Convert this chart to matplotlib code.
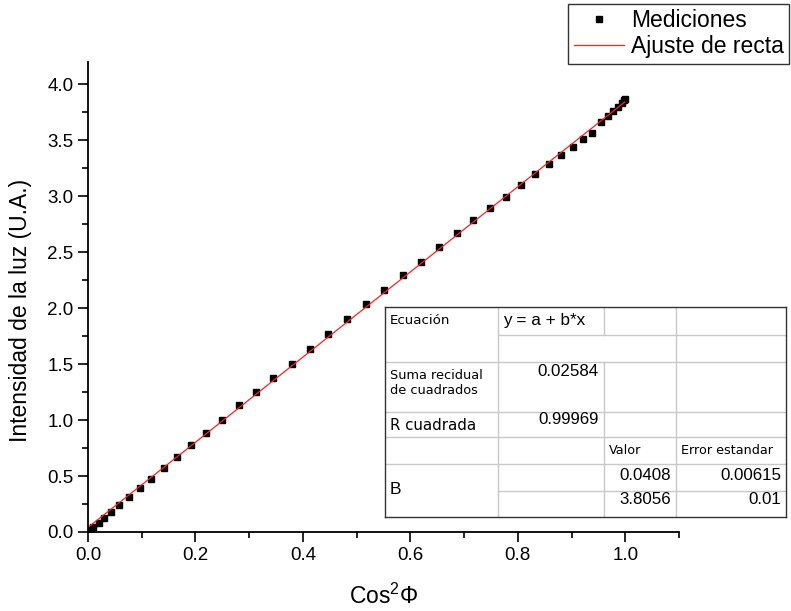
import matplotlib
matplotlib.use("Agg")
import matplotlib.pyplot as plt
from matplotlib.ticker import MultipleLocator
import numpy as np

plt.rcParams['font.family'] = ['Liberation Sans', 'DejaVu Sans']
plt.rcParams['mathtext.default'] = 'regular'

# Medidas: cos^2(phi) contra intensidad de la luz
cos2_phi = [0.004, 0.009, 0.020, 0.030, 0.043, 0.058, 0.076, 0.097, 0.117, 0.141,
            0.166, 0.192, 0.220, 0.249, 0.281, 0.313, 0.344, 0.380, 0.413, 0.447,
            0.482, 0.517, 0.551, 0.586, 0.620, 0.653, 0.687, 0.716, 0.748, 0.778,
            0.805, 0.832, 0.858, 0.880, 0.902, 0.921, 0.938, 0.954, 0.967, 0.977,
            0.986, 0.993, 0.997, 0.999]
intensidad = [0.018, 0.045, 0.080, 0.125, 0.179, 0.241, 0.313, 0.393, 0.473, 0.571,
              0.670, 0.777, 0.884, 1.000, 1.134, 1.250, 1.375, 1.500, 1.634, 1.768,
              1.902, 2.036, 2.161, 2.295, 2.411, 2.545, 2.670, 2.786, 2.893, 2.991,
              3.098, 3.196, 3.286, 3.366, 3.438, 3.509, 3.563, 3.661, 3.714, 3.759,
              3.795, 3.830, 3.857, 3.866]

# Resultado del ajuste lineal y = a + b*x
a_valor, a_error = 0.0408, 0.00615
b_valor, b_error = 3.8056, 0.01
suma_residual = 0.02584
r_cuadrada = 0.99969


def dibujar_tabla(fig):
    """Tabla con los parametros del ajuste, en coordenadas de pixel propias."""
    tab = fig.add_axes([385 / 791, (611 - 517) / 611, 401 / 791, 210 / 611])
    tab.set_xlim(0, 401)
    tab.set_ylim(210, 0)
    tab.set_xticks([])
    tab.set_yticks([])
    for s in tab.spines.values():
        s.set_color('#333333')
        s.set_linewidth(1.0)

    gris = '#c8c8c8'
    # lineas horizontales (algunas no cruzan la primera columna)
    for y in [28, 55, 105, 130, 157, 184]:
        x0 = 113 if y in (28, 184) else 0
        tab.plot([x0, 401], [y, y], color=gris, lw=1.0)
    # lineas verticales
    tab.plot([113, 113], [0, 210], color=gris, lw=1.0)
    tab.plot([219, 219], [0, 28], color=gris, lw=1.0)
    tab.plot([219, 219], [55, 210], color=gris, lw=1.0)
    tab.plot([291, 291], [0, 210], color=gris, lw=1.0)

    dv = ['DejaVu Sans']
    num = 12.2
    tab.text(5, 14, 'Ecuación', family=dv, fontsize=9.6, va='center')
    tab.text(118, 14, 'y = a + b*x', fontsize=12.3, va='center')
    tab.text(5, 76, 'Suma recidual\nde cuadrados', family=dv, fontsize=9.3,
             va='center', linespacing=1.15)
    tab.text(214, 64, f'{suma_residual:.5f}', fontsize=num, va='center', ha='right')
    tab.text(5, 119, 'R cuadrada', family=dv, fontsize=10.8, va='center')
    tab.text(214, 113, f'{r_cuadrada:.5f}', fontsize=num, va='center', ha='right')
    tab.text(224, 144, 'Valor', family=dv, fontsize=9.2, va='center')
    tab.text(296, 144, 'Error estandar', family=dv, fontsize=9.2, va='center')
    tab.text(5, 183, 'B', fontsize=12.5, va='center')
    tab.text(286, 168, f'{a_valor:.4f}', fontsize=num, va='center', ha='right')
    tab.text(396, 168, f'{a_error:.5f}', fontsize=num, va='center', ha='right')
    tab.text(286, 193, f'{b_valor:.4f}', fontsize=num, va='center', ha='right')
    tab.text(396, 193, f'{b_error:g}', fontsize=num, va='center', ha='right')


fig = plt.figure(figsize=(7.91, 6.11), dpi=100)
ax = fig.add_axes([88 / 791, (611 - 532) / 611, 591 / 791, 470 / 611])

ax.plot(cos2_phi, intensidad, 's', color='black', ms=5, label='Mediciones')
x_fit = np.linspace(0, max(cos2_phi), 100)
ax.plot(x_fit, a_valor + b_valor * x_fit, color='#ff2020', lw=0.9,
        label='Ajuste de recta')

ax.set_xlim(0, 1.1)
ax.set_ylim(0, 4.2)
ax.xaxis.set_major_locator(MultipleLocator(0.2))
ax.xaxis.set_minor_locator(MultipleLocator(0.1))
ax.yaxis.set_major_locator(MultipleLocator(0.5))
ax.yaxis.set_minor_locator(MultipleLocator(0.25))
ax.xaxis.set_major_formatter('{x:.1f}')
ax.yaxis.set_major_formatter('{x:.1f}')
ax.tick_params(which='both', direction='out', width=1.2, labelsize=13.5)
ax.tick_params(which='major', length=7)
ax.tick_params(which='minor', length=4)
ax.spines['top'].set_visible(False)
ax.spines['right'].set_visible(False)
ax.spines['left'].set_linewidth(1.3)
ax.spines['bottom'].set_linewidth(1.3)

ax.set_xlabel('Cos$^{2}$Φ', fontsize=16.5)
ax.set_ylabel('Intensidad de la luz (U.A.)', fontsize=16.5)
ax.xaxis.set_label_coords(0.5, -0.11)
ax.yaxis.set_label_coords(-0.095, 0.472)

leg = fig.legend(loc='upper right', bbox_to_anchor=(0.998, 0.994),
                 fontsize=16.5, frameon=True, fancybox=False, handlelength=2.2,
                 borderpad=0.25, labelspacing=0.12, handletextpad=0.3,
                 borderaxespad=0)
leg.get_frame().set_edgecolor('black')
leg.get_frame().set_linewidth(1.0)

dibujar_tabla(fig)

plt.savefig('out.png', dpi=100)
plt.close()
